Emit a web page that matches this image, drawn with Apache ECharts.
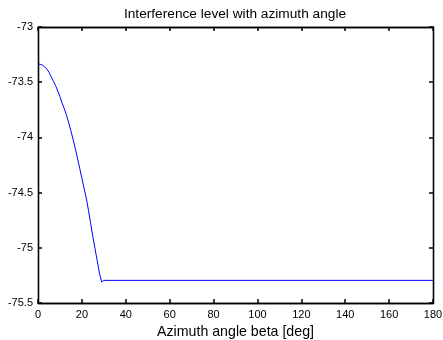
<!DOCTYPE html>
<html>
<head>
<meta charset="utf-8">
<script src="https://cdn.jsdelivr.net/npm/echarts@6/dist/echarts.min.js"></script>
<style>html,body{margin:0;padding:0;background:#fff}#c{width:443px;height:340px}</style>
</head>
<body>
<div id="c"></div>
<script>
var titleText = 'Interference level with azimuth angle';
var xLabel = 'Azimuth angle beta [deg]';
var angles = [0,1,2,3,4,5,6,7,8,9,10,11,12,13,14,15,16,17,18,19,20,21,22,23,24,25,26,27,28,29,30,180];
var levels = [-73.335,-73.338,-73.345,-73.36,-73.38,-73.41,-73.45,-73.49,-73.53,-73.58,-73.63,-73.69,-73.74,-73.80,-73.87,-73.94,-74.02,-74.10,-74.19,-74.28,-74.37,-74.46,-74.55,-74.66,-74.78,-74.90,-75.01,-75.12,-75.23,-75.31,-75.295,-75.295];
var xTicks = [0,180,20];
var yTicks = [-75.5,-73,0.5];

var data = angles.map(function(a,i){return [a, levels[i]];});
var font = 'Liberation Sans, Arial, sans-serif';
var G = {left:38, right:10, top:27, bottom:37};
var W = 443, H = 340;
var chart = echarts.init(document.getElementById('c'), null, {renderer:'canvas'});
function line(){ return {show:true, onZero:false, lineStyle:{color:'#000000', width:1.3, type:'solid'}}; }
function tick(){ return {show:true, inside:true, length:4, lineStyle:{color:'#000000', width:1.5, type:'solid'}}; }
chart.setOption({
  animation:false,
  backgroundColor:'#ffffff',
  title:{text:titleText, left:230, top:2, textAlign:'center',
    textStyle:{fontFamily:font, fontSize:13.7, fontWeight:'normal', color:'#000'}},
  grid:{left:G.left, right:G.right, top:G.top, bottom:G.bottom, containLabel:false, outerBoundsMode:'none'},
  graphic:[{type:'rect', silent:true, z:100,
    shape:{x:G.left+0.5, y:G.top+0.5, width:W-G.left-G.right, height:H-G.top-G.bottom},
    style:{fill:null, stroke:'#000000', lineWidth:1.3}}],
  xAxis:[
    {type:'value', position:'bottom', min:xTicks[0], max:xTicks[1], interval:xTicks[2],
      axisLine:line(), axisTick:tick(), splitLine:{show:false},
      axisLabel:{color:'#000', fontFamily:font, fontSize:11, margin:6},
      name:xLabel, nameLocation:'middle', nameGap:18,
      nameTextStyle:{color:'#000', fontFamily:font, fontSize:14.2, verticalAlign:'top'}},
    {type:'value', position:'top', min:xTicks[0], max:xTicks[1], interval:xTicks[2],
      axisLine:line(), axisTick:tick(), splitLine:{show:false}, axisLabel:{show:false}}
  ],
  yAxis:[
    {type:'value', position:'left', min:yTicks[0], max:yTicks[1], interval:yTicks[2],
      axisLine:line(), axisTick:tick(), splitLine:{show:false},
      axisLabel:{color:'#000', fontFamily:font, fontSize:11, margin:5}},
    {type:'value', position:'right', min:yTicks[0], max:yTicks[1], interval:yTicks[2],
      axisLine:line(), axisTick:tick(), splitLine:{show:false}, axisLabel:{show:false}}
  ],
  series:[{type:'line', data:data, showSymbol:false, symbol:'none',
    lineStyle:{color:'#0000ff', width:1}, itemStyle:{color:'#0000ff'}}]
});
</script>
</body>
</html>
